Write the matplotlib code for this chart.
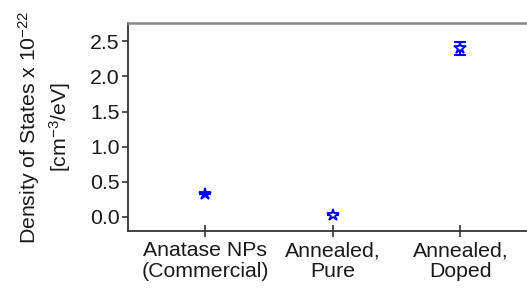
import matplotlib
matplotlib.use("Agg")
import matplotlib.pyplot as plt
import numpy as np

categories = ["Anatase NPs\n(Commercial)", "Annealed,\nPure", "Annealed,\nDoped"]
values = [0.33, 0.03, 2.40]
errors = [0.0, 0.0, 0.09]
filled = [True, False, False]
yticks = [0.0, 0.5, 1.0, 1.5, 2.0, 2.5]

plt.rcParams['font.family'] = ['Liberation Sans', 'DejaVu Sans']
plt.rcParams['mathtext.fontset'] = 'custom'
plt.rcParams['mathtext.rm'] = 'Liberation Sans'
plt.rcParams['mathtext.it'] = 'Liberation Sans'
plt.rcParams['mathtext.default'] = 'regular'

fs = 15.3
fig = plt.figure(figsize=(5.27, 2.96), dpi=100)
ax = fig.add_axes([0.243, 0.22, 0.80, 0.702])

x = np.arange(len(categories))
ax.errorbar(x, values, yerr=errors, fmt='none', ecolor='#0000ff',
            elinewidth=1.5, capsize=4, capthick=1.5, zorder=3)
for xi, v, f in zip(x, values, filled):
    ax.plot([xi], [v], marker='*', markersize=9, linestyle='none',
            markeredgecolor='#0000ff', markeredgewidth=1.3,
            markerfacecolor='#0000ff' if f else 'white', zorder=4)

ax.set_xlim(-0.604, 2.7)
ax.set_ylim(-0.2, 2.76)
ax.set_yticks(yticks)
ax.set_yticklabels([f"{t:.1f}" for t in yticks])
ax.set_xticks(x)
ax.set_xticklabels(categories, linespacing=1.1)

for s in ['left', 'bottom', 'top']:
    ax.spines[s].set_color('#333333')
    ax.spines[s].set_linewidth(1.3)
ax.spines['top'].set_color('#888888')
ax.spines['top'].set_linewidth(1.8)
ax.spines['right'].set_visible(False)

ax.tick_params(axis='y', direction='out', length=4, width=1.2, color='#333333',
               labelsize=fs, pad=2, labelcolor='#1a1a1a')
ax.tick_params(axis='x', direction='inout', length=9, width=1.2, color='#333333',
               labelsize=fs, pad=3, labelcolor='#1a1a1a')

ax.set_ylabel("Density of States x 10$^{-22}$\n[cm$^{-3}$/eV]", fontsize=fs,
              color='#1a1a1a', linespacing=1.3, labelpad=12)

fig.savefig("out.png", dpi=100)
